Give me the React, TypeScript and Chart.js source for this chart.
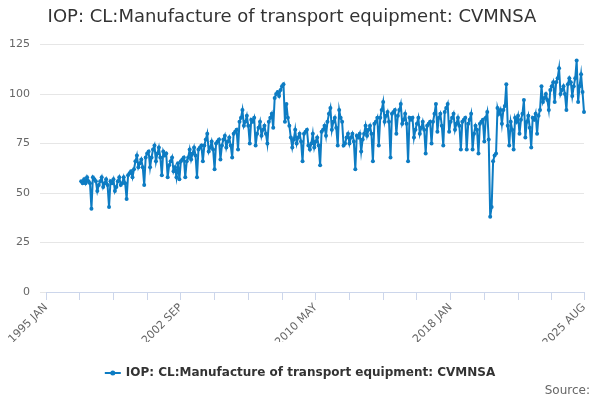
import React, { useEffect, useRef } from 'react';
import { Chart, registerables } from 'chart.js';

Chart.register(...registerables);

const TITLE = 'IOP: CL:Manufacture of transport equipment: CVMNSA';
const SOURCE = 'Source:';
const LINE_COLOR = '#0d7cc3';

const MONTHS = ['JAN', 'FEB', 'MAR', 'APR', 'MAY', 'JUN', 'JUL', 'AUG', 'SEP', 'OCT', 'NOV', 'DEC'];
const FIRST_YEAR = 1995;
const LAST_YEAR = 2025;
const LAST_MONTH = 7; // AUG

// monthly categories, 1995 JAN .. 2025 AUG
const categories: string[] = [];
for (let y = FIRST_YEAR; y <= LAST_YEAR; y++) {
  for (let m = 0; m < 12; m++) {
    if (y === LAST_YEAR && m > LAST_MONTH) break;
    categories.push(`${y} ${MONTHS[m]}`);
  }
}

// 1995-1996: no observations
const noData = [
  null, null, null, null, null, null, null, null, null, null, null, null,
  null, null, null, null, null, null, null, null, null, null, null, null,
];

const values1997to2004 = [
  56, 55, 57, 55, 58, 56, 55, 42, 58, 57, 56, 51,
  54, 56, 58, 53, 55, 57, 54, 43, 56, 55, 57, 51,
  53, 56, 58, 54, 55, 58, 55, 47, 59, 60, 61, 58,
  62, 66, 69, 63, 65, 67, 63, 54, 68, 70, 71, 63,
  68, 72, 74, 66, 70, 73, 68, 59, 71, 69, 70, 58,
  64, 66, 68, 61, 63, 58, 65, 57, 66, 67, 68, 58,
  66, 68, 72, 67, 70, 73, 69, 58, 72, 73, 74, 66,
  74, 77, 80, 71, 73, 76, 72, 62, 75, 76, 77, 67,
];

const values2005to2012 = [
  74, 77, 79, 73, 76, 78, 74, 68, 80, 81, 82, 72,
  86, 88, 92, 84, 86, 89, 84, 75, 87, 86, 88, 74,
  80, 83, 86, 79, 82, 84, 80, 75, 86, 88, 90, 83,
  98, 100, 101, 99, 102, 104, 105, 86, 95, 88, 84, 78,
  73, 77, 82, 75, 78, 80, 76, 66, 80, 81, 82, 74,
  72, 75, 80, 73, 76, 78, 74, 64, 81, 82, 84, 79,
  86, 90, 93, 82, 86, 88, 83, 74, 92, 88, 86, 74,
  75, 78, 80, 75, 78, 80, 76, 62, 79, 78, 80, 71,
];

const values2013to2019 = [
  77, 80, 84, 79, 82, 84, 80, 66, 85, 86, 88, 74,
  88, 92, 96, 86, 89, 91, 86, 68, 90, 91, 92, 80,
  89, 92, 95, 85, 87, 90, 85, 66, 88, 87, 88, 78,
  82, 85, 88, 80, 83, 86, 82, 70, 84, 85, 86, 75,
  86, 90, 95, 81, 88, 90, 84, 74, 91, 93, 95, 81,
  86, 88, 90, 82, 85, 88, 84, 72, 86, 87, 88, 72,
  85, 87, 90, 72, 80, 84, 82, 70, 85, 86, 87, 76,
];

const values2020to2025 = [
  88, 91, 77, 38, 43, 66, 69, 70, 93, 90, 92, 85,
  92, 94, 105, 84, 74, 86, 82, 72, 88, 86, 89, 80,
  87, 90, 97, 78, 86, 89, 83, 73, 88, 87, 90, 80,
  89, 92, 104, 96, 98, 100, 97, 92, 102, 104, 106, 96,
  106, 108, 113, 100, 102, 104, 100, 92, 105, 108, 106, 99,
  104, 108, 117, 96, 104, 110, 101, 91,
];

const seriesValues = [...noData, ...values1997to2004, ...values2005to2012, ...values2013to2019, ...values2020to2025];

const xTickLabels = ['1995 JAN', '2002 SEP', '2010 MAY', '2018 JAN', '2025 AUG'];
const xTickStep = 23;
const yMax = 125;
const yStep = 25;

const legendAndSource = {
  id: 'legendAndSource',
  afterDraw(chart: any) {
    const ctx = chart.ctx;
    ctx.save();
    ctx.font = 'bold 12px "DejaVu Sans"';
    const textW = ctx.measureText(TITLE).width;
    const total = 16 + 5 + textW;
    const x0 = 300 - total / 2;
    const y = 373;
    ctx.strokeStyle = LINE_COLOR;
    ctx.lineWidth = 2;
    ctx.beginPath();
    ctx.moveTo(x0, y);
    ctx.lineTo(x0 + 16, y);
    ctx.stroke();
    ctx.fillStyle = LINE_COLOR;
    ctx.beginPath();
    ctx.arc(x0 + 8, y, 2.5, 0, Math.PI * 2);
    ctx.fill();
    ctx.fillStyle = '#333333';
    ctx.textBaseline = 'middle';
    ctx.textAlign = 'left';
    ctx.fillText(TITLE, x0 + 21, y);
    ctx.font = '12px "DejaVu Sans"';
    ctx.fillStyle = '#666666';
    ctx.textAlign = 'right';
    ctx.fillText(SOURCE, 590, 391);
    ctx.restore();
  },
};

const App = () => {
  const canvasRef = useRef<HTMLCanvasElement>(null);

  useEffect(() => {
    if (!canvasRef.current) return;
    Chart.defaults.font.family = '"DejaVu Sans", sans-serif';
    const lastIndex = categories.length - 1;
    const tickIndexes: number[] = [];
    for (let i = 0; i < lastIndex; i += xTickStep) tickIndexes.push(i);
    tickIndexes.push(lastIndex);

    const chart = new Chart(canvasRef.current, {
      type: 'line',
      data: {
        labels: categories,
        datasets: [{
          label: TITLE,
          data: seriesValues,
          borderColor: LINE_COLOR,
          backgroundColor: LINE_COLOR,
          borderWidth: 2,
          pointRadius: 2,
          pointHoverRadius: 2,
          pointBorderWidth: 0,
          tension: 0,
          spanGaps: false,
        }],
      },
      options: {
        responsive: false,
        animation: false,
        layout: { padding: { left: 0, right: 16, top: 0, bottom: 58 } },
        plugins: {
          legend: { display: false },
          tooltip: { enabled: false },
          title: {
            display: true,
            text: TITLE,
            color: '#333333',
            font: { size: 18, weight: 'normal' },
            padding: { top: 7, bottom: 16 },
          },
        },
        scales: {
          x: {
            type: 'category',
            offset: false,
            afterBuildTicks: (scale: any) => {
              scale.ticks = tickIndexes.map((v) => ({ value: v }));
            },
            afterFit: (scale: any) => {
              scale.height = 50;
            },
            ticks: {
              autoSkip: false,
              minRotation: 45,
              maxRotation: 45,
              padding: 1,
              color: '#666666',
              font: { size: 11 },
              callback: (value: any) => {
                const lab = categories[value];
                return xTickLabels.includes(lab) ? lab : '';
              },
            },
            grid: {
              drawOnChartArea: false,
              drawTicks: true,
              tickLength: 8,
              color: '#ccd6eb',
            },
            border: { display: true, color: '#ccd6eb', width: 1 },
          },
          y: {
            min: 0,
            max: yMax,
            afterFit: (scale: any) => {
              scale.width = 46;
            },
            ticks: {
              stepSize: yStep,
              padding: 10,
              color: '#666666',
              font: { size: 11 },
            },
            grid: {
              color: '#e6e6e6',
              drawTicks: true,
              tickLength: 6,
            },
            border: { display: false },
          },
        },
      },
      plugins: [legendAndSource],
    });

    return () => {
      chart.destroy();
    };
  }, []);

  return (
    <div style={{ position: 'absolute', left: 0, top: 0, width: 600, height: 400, background: '#ffffff' }}>
      <canvas ref={canvasRef} width={600} height={400}></canvas>
    </div>
  );
};

export default App;
